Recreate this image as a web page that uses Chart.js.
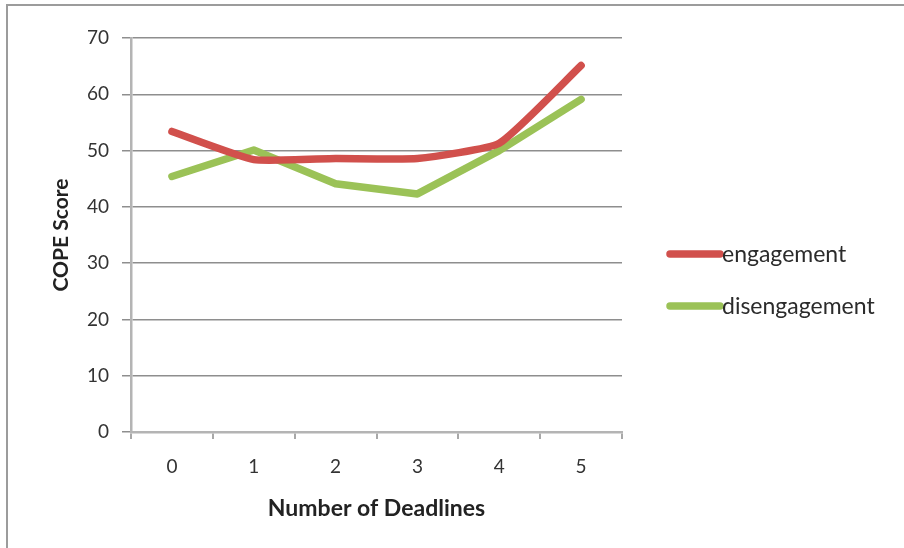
<!DOCTYPE html>
<html>
<head>
<meta charset="utf-8">
<script src="https://cdn.jsdelivr.net/npm/chart.js@4"></script>
<style>
  html, body { margin: 0; padding: 0; background: #fff; }
  #wrap { width: 904px; height: 548px; }
</style>
</head>
<body>
<div id="wrap"><canvas id="c" width="904" height="548"></canvas></div>
<script>
// Number of deadlines (x categories)
const deadlines = ['0', '1', '2', '3', '4', '5'];
// Mean COPE scores per group
const engagement = [53.4, 48.4, 48.6, 48.6, 51.3, 65.1];
const disengagement = [45.4, 50.1, 44.1, 42.3, 50.0, 59.1];
const seriesNames = ['engagement', 'disengagement'];
const yTicks = [0, 10, 20, 30, 40, 50, 60, 70];

const RED = '#d1504c';
const GREEN = '#9bc257';
const FONT = 'Lato, "Open Sans", sans-serif';

// Frame along the top and left edge of the figure
const framePlugin = {
  id: 'frame',
  beforeDraw(chart) {
    const ctx = chart.ctx;
    ctx.save();
    ctx.strokeStyle = '#9c9c9c';
    ctx.lineWidth = 2;
    ctx.beginPath();
    ctx.moveTo(7, 548);
    ctx.lineTo(7, 5);
    ctx.lineTo(904, 5);
    ctx.stroke();
    ctx.restore();
  }
};

// Legend drawn to the right of the plot: thick line swatch followed by the name
const sideLegend = {
  id: 'sideLegend',
  afterDraw(chart) {
    const ctx = chart.ctx;
    const area = chart.chartArea;
    const x0 = area.right + 48;
    const ys = [254, 306];
    ctx.save();
    chart.data.datasets.forEach((ds, i) => {
      ctx.strokeStyle = ds.borderColor;
      ctx.lineWidth = 7.5;
      ctx.lineCap = 'round';
      ctx.beginPath();
      ctx.moveTo(x0, ys[i]);
      ctx.lineTo(x0 + 50, ys[i]);
      ctx.stroke();
      ctx.fillStyle = '#2b2b2b';
      ctx.font = '23px ' + FONT;
      ctx.textBaseline = 'middle';
      ctx.textAlign = 'left';
      ctx.fillText(ds.label, x0 + 52, ys[i] + 1);
    });
    ctx.restore();
  }
};

new Chart(document.getElementById('c'), {
  type: 'line',
  data: {
    labels: deadlines,
    datasets: [
      { label: seriesNames[0], data: engagement, borderColor: RED, backgroundColor: RED,
        borderWidth: 7.5, pointRadius: 0, tension: 0.15, borderCapStyle: 'round', borderJoinStyle: 'round' },
      { label: seriesNames[1], data: disengagement, borderColor: GREEN, backgroundColor: GREEN,
        borderWidth: 7.5, pointRadius: 0, tension: 0, borderCapStyle: 'round', borderJoinStyle: 'round' }
    ]
  },
  options: {
    responsive: false,
    animation: false,
    devicePixelRatio: 1,
    layout: { padding: { left: 0, top: 38, right: 282, bottom: 0 } },
    plugins: {
      legend: { display: false },
      tooltip: { enabled: false }
    },
    scales: {
      x: {
        type: 'category',
        offset: true,
        grid: { display: true, drawOnChartArea: false, drawTicks: true, tickLength: 7,
                color: '#a8a8a8', lineWidth: 2, offset: true },
        border: { display: true, color: '#b4b4b4', width: 2.5 },
        ticks: { color: '#333', font: { family: FONT, size: 19 }, padding: 16 },
        title: { display: true, text: 'Number of Deadlines', color: '#222',
                 font: { family: FONT, size: 23, weight: 'bold' }, padding: { top: 0, bottom: 26 } },
        afterFit(scale) { scale.height = 116; }
      },
      y: {
        min: 0, max: 70,
        afterBuildTicks(scale) { scale.ticks = yTicks.map(v => ({ value: v })); },
        grid: { color: '#8e8e8e', lineWidth: 1.5, tickLength: 9, drawTicks: true },
        border: { display: true, color: '#b4b4b4', width: 2.5 },
        ticks: { color: '#333', font: { family: FONT, size: 19 }, padding: 13 },
        title: { display: true, text: 'COPE Score', color: '#222',
                 font: { family: FONT, size: 21, weight: 'bold' }, padding: { top: 49, bottom: 0 } },
        afterFit(scale) { scale.width = 131; }
      }
    }
  },
  plugins: [framePlugin, sideLegend]
});
</script>
</body>
</html>
